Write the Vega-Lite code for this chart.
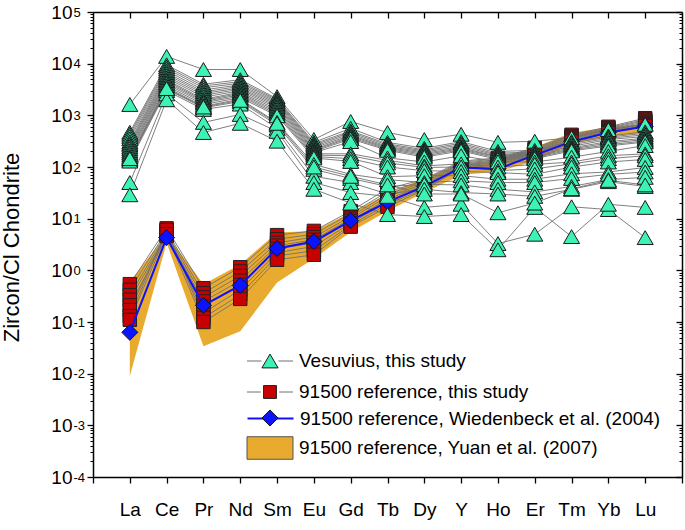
{
"$schema":"https://vega.github.io/schema/vega-lite/v6.json",
"width":589,"height":465,
"autosize":{"type":"none"},
"padding":{"left":93,"top":12,"right":3,"bottom":53},
"background":"white",
"config":{"view":{"stroke":null},"font":"Liberation Sans","axis":{"grid":false,"domainColor":"black","tickColor":"black","labelColor":"black","titleColor":"black","domainWidth":1.5,"tickWidth":1.3,"labelFont":"Liberation Sans","titleFont":"Liberation Sans"},"legend":{"labelFont":"Liberation Sans","labelColor":"black","labelLimit":600}},
"datasets":{
"ves":[
{"sample":"V1","element":"La","value":1620},{"sample":"V1","element":"Ce","value":13800},{"sample":"V1","element":"Pr","value":7700},{"sample":"V1","element":"Nd","value":7700},{"sample":"V1","element":"Sm","value":2300},{"sample":"V1","element":"Eu","value":340},{"sample":"V1","element":"Gd","value":760},{"sample":"V1","element":"Tb","value":465},{"sample":"V1","element":"Dy","value":340},{"sample":"V1","element":"Y","value":430},{"sample":"V1","element":"Ho","value":300},{"sample":"V1","element":"Er","value":315},{"sample":"V1","element":"Tm","value":370},{"sample":"V1","element":"Yb","value":530},{"sample":"V1","element":"Lu","value":670},
{"sample":"V2","element":"La","value":470},{"sample":"V2","element":"Ce","value":9500},{"sample":"V2","element":"Pr","value":4000},{"sample":"V2","element":"Nd","value":4900},{"sample":"V2","element":"Sm","value":2100},{"sample":"V2","element":"Eu","value":300},{"sample":"V2","element":"Gd","value":560},{"sample":"V2","element":"Tb","value":300},{"sample":"V2","element":"Dy","value":230},{"sample":"V2","element":"Y","value":310},{"sample":"V2","element":"Ho","value":200},{"sample":"V2","element":"Er","value":210},{"sample":"V2","element":"Tm","value":310},{"sample":"V2","element":"Yb","value":400},{"sample":"V2","element":"Lu","value":480},
{"sample":"V3","element":"La","value":430},{"sample":"V3","element":"Ce","value":8700},{"sample":"V3","element":"Pr","value":3700},{"sample":"V3","element":"Nd","value":4500},{"sample":"V3","element":"Sm","value":2000},{"sample":"V3","element":"Eu","value":280},{"sample":"V3","element":"Gd","value":500},{"sample":"V3","element":"Tb","value":280},{"sample":"V3","element":"Dy","value":215},{"sample":"V3","element":"Y","value":290},{"sample":"V3","element":"Ho","value":185},{"sample":"V3","element":"Er","value":195},{"sample":"V3","element":"Tm","value":290},{"sample":"V3","element":"Yb","value":380},{"sample":"V3","element":"Lu","value":450},
{"sample":"V4","element":"La","value":390},{"sample":"V4","element":"Ce","value":8000},{"sample":"V4","element":"Pr","value":3400},{"sample":"V4","element":"Nd","value":4200},{"sample":"V4","element":"Sm","value":1900},{"sample":"V4","element":"Eu","value":265},{"sample":"V4","element":"Gd","value":470},{"sample":"V4","element":"Tb","value":265},{"sample":"V4","element":"Dy","value":205},{"sample":"V4","element":"Y","value":270},{"sample":"V4","element":"Ho","value":175},{"sample":"V4","element":"Er","value":185},{"sample":"V4","element":"Tm","value":270},{"sample":"V4","element":"Yb","value":360},{"sample":"V4","element":"Lu","value":420},
{"sample":"V5","element":"La","value":350},{"sample":"V5","element":"Ce","value":7300},{"sample":"V5","element":"Pr","value":3100},{"sample":"V5","element":"Nd","value":3900},{"sample":"V5","element":"Sm","value":1800},{"sample":"V5","element":"Eu","value":250},{"sample":"V5","element":"Gd","value":440},{"sample":"V5","element":"Tb","value":250},{"sample":"V5","element":"Dy","value":195},{"sample":"V5","element":"Y","value":250},{"sample":"V5","element":"Ho","value":168},{"sample":"V5","element":"Er","value":178},{"sample":"V5","element":"Tm","value":250},{"sample":"V5","element":"Yb","value":340},{"sample":"V5","element":"Lu","value":390},
{"sample":"V6","element":"La","value":310},{"sample":"V6","element":"Ce","value":6700},{"sample":"V6","element":"Pr","value":2850},{"sample":"V6","element":"Nd","value":3650},{"sample":"V6","element":"Sm","value":1700},{"sample":"V6","element":"Eu","value":235},{"sample":"V6","element":"Gd","value":410},{"sample":"V6","element":"Tb","value":240},{"sample":"V6","element":"Dy","value":185},{"sample":"V6","element":"Y","value":235},{"sample":"V6","element":"Ho","value":160},{"sample":"V6","element":"Er","value":168},{"sample":"V6","element":"Tm","value":235},{"sample":"V6","element":"Yb","value":310},{"sample":"V6","element":"Lu","value":360},
{"sample":"V7","element":"La","value":285},{"sample":"V7","element":"Ce","value":6200},{"sample":"V7","element":"Pr","value":2650},{"sample":"V7","element":"Nd","value":3400},{"sample":"V7","element":"Sm","value":1600},{"sample":"V7","element":"Eu","value":220},{"sample":"V7","element":"Gd","value":390},{"sample":"V7","element":"Tb","value":230},{"sample":"V7","element":"Dy","value":175},{"sample":"V7","element":"Y","value":225},{"sample":"V7","element":"Ho","value":155},{"sample":"V7","element":"Er","value":160},{"sample":"V7","element":"Tm","value":225},{"sample":"V7","element":"Yb","value":290},{"sample":"V7","element":"Lu","value":340},
{"sample":"V8","element":"La","value":265},{"sample":"V8","element":"Ce","value":5700},{"sample":"V8","element":"Pr","value":2450},{"sample":"V8","element":"Nd","value":3200},{"sample":"V8","element":"Sm","value":1500},{"sample":"V8","element":"Eu","value":210},{"sample":"V8","element":"Gd","value":370},{"sample":"V8","element":"Tb","value":220},{"sample":"V8","element":"Dy","value":165},{"sample":"V8","element":"Y","value":215},{"sample":"V8","element":"Ho","value":148},{"sample":"V8","element":"Er","value":152},{"sample":"V8","element":"Tm","value":215},{"sample":"V8","element":"Yb","value":270},{"sample":"V8","element":"Lu","value":320},
{"sample":"V9","element":"La","value":245},{"sample":"V9","element":"Ce","value":5300},{"sample":"V9","element":"Pr","value":2250},{"sample":"V9","element":"Nd","value":3000},{"sample":"V9","element":"Sm","value":1400},{"sample":"V9","element":"Eu","value":200},{"sample":"V9","element":"Gd","value":350},{"sample":"V9","element":"Tb","value":210},{"sample":"V9","element":"Dy","value":155},{"sample":"V9","element":"Y","value":205},{"sample":"V9","element":"Ho","value":140},{"sample":"V9","element":"Er","value":145},{"sample":"V9","element":"Tm","value":205},{"sample":"V9","element":"Yb","value":255},{"sample":"V9","element":"Lu","value":305},
{"sample":"V10","element":"La","value":225},{"sample":"V10","element":"Ce","value":4900},{"sample":"V10","element":"Pr","value":2050},{"sample":"V10","element":"Nd","value":2800},{"sample":"V10","element":"Sm","value":1300},{"sample":"V10","element":"Eu","value":190},{"sample":"V10","element":"Gd","value":310},{"sample":"V10","element":"Tb","value":150},{"sample":"V10","element":"Dy","value":125},{"sample":"V10","element":"Y","value":165},{"sample":"V10","element":"Ho","value":126},{"sample":"V10","element":"Er","value":125},{"sample":"V10","element":"Tm","value":155},{"sample":"V10","element":"Yb","value":200},{"sample":"V10","element":"Lu","value":260},
{"sample":"V11","element":"La","value":205},{"sample":"V11","element":"Ce","value":4600},{"sample":"V11","element":"Pr","value":1950},{"sample":"V11","element":"Nd","value":2650},{"sample":"V11","element":"Sm","value":1200},{"sample":"V11","element":"Eu","value":180},{"sample":"V11","element":"Gd","value":180},{"sample":"V11","element":"Tb","value":135},{"sample":"V11","element":"Dy","value":105},{"sample":"V11","element":"Y","value":115},{"sample":"V11","element":"Ho","value":100},{"sample":"V11","element":"Er","value":112},{"sample":"V11","element":"Tm","value":125},{"sample":"V11","element":"Yb","value":165},{"sample":"V11","element":"Lu","value":180},
{"sample":"V12","element":"La","value":190},{"sample":"V12","element":"Ce","value":4300},{"sample":"V12","element":"Pr","value":1850},{"sample":"V12","element":"Nd","value":2500},{"sample":"V12","element":"Sm","value":1120},{"sample":"V12","element":"Eu","value":170},{"sample":"V12","element":"Gd","value":165},{"sample":"V12","element":"Tb","value":120},{"sample":"V12","element":"Dy","value":98},{"sample":"V12","element":"Y","value":100},{"sample":"V12","element":"Ho","value":85},{"sample":"V12","element":"Er","value":92},{"sample":"V12","element":"Tm","value":115},{"sample":"V12","element":"Yb","value":145},{"sample":"V12","element":"Lu","value":165},
{"sample":"V13","element":"La","value":175},{"sample":"V13","element":"Ce","value":4000},{"sample":"V13","element":"Pr","value":1750},{"sample":"V13","element":"Nd","value":2350},{"sample":"V13","element":"Sm","value":1050},{"sample":"V13","element":"Eu","value":160},{"sample":"V13","element":"Gd","value":145},{"sample":"V13","element":"Tb","value":100},{"sample":"V13","element":"Dy","value":85},{"sample":"V13","element":"Y","value":82},{"sample":"V13","element":"Ho","value":78},{"sample":"V13","element":"Er","value":72},{"sample":"V13","element":"Tm","value":100},{"sample":"V13","element":"Yb","value":125},{"sample":"V13","element":"Lu","value":140},
{"sample":"V14","element":"La","value":160},{"sample":"V14","element":"Ce","value":3700},{"sample":"V14","element":"Pr","value":1620},{"sample":"V14","element":"Nd","value":2200},{"sample":"V14","element":"Sm","value":980},{"sample":"V14","element":"Eu","value":150},{"sample":"V14","element":"Gd","value":128},{"sample":"V14","element":"Tb","value":65},{"sample":"V14","element":"Dy","value":68},{"sample":"V14","element":"Y","value":68},{"sample":"V14","element":"Ho","value":58},{"sample":"V14","element":"Er","value":58},{"sample":"V14","element":"Tm","value":74},{"sample":"V14","element":"Yb","value":80},{"sample":"V14","element":"Lu","value":98},
{"sample":"V15","element":"La","value":150},{"sample":"V15","element":"Ce","value":3450},{"sample":"V15","element":"Pr","value":1500},{"sample":"V15","element":"Nd","value":2050},{"sample":"V15","element":"Sm","value":730},{"sample":"V15","element":"Eu","value":112},{"sample":"V15","element":"Gd","value":72},{"sample":"V15","element":"Tb","value":57},{"sample":"V15","element":"Dy","value":50},{"sample":"V15","element":"Y","value":54},{"sample":"V15","element":"Ho","value":50},{"sample":"V15","element":"Er","value":50},{"sample":"V15","element":"Tm","value":60},{"sample":"V15","element":"Yb","value":72},{"sample":"V15","element":"Lu","value":80},
{"sample":"V16","element":"La","value":140},{"sample":"V16","element":"Ce","value":3200},{"sample":"V16","element":"Pr","value":1400},{"sample":"V16","element":"Nd","value":1850},{"sample":"V16","element":"Sm","value":650},{"sample":"V16","element":"Eu","value":90},{"sample":"V16","element":"Gd","value":60},{"sample":"V16","element":"Tb","value":42},{"sample":"V16","element":"Dy","value":46},{"sample":"V16","element":"Y","value":45},{"sample":"V16","element":"Ho","value":37},{"sample":"V16","element":"Er","value":33},{"sample":"V16","element":"Tm","value":42},{"sample":"V16","element":"Yb","value":57},{"sample":"V16","element":"Lu","value":63},
{"sample":"V17","element":"La","value":130},{"sample":"V17","element":"Ce","value":3000},{"sample":"V17","element":"Pr","value":1300},{"sample":"V17","element":"Nd","value":1650},{"sample":"V17","element":"Sm","value":560},{"sample":"V17","element":"Eu","value":66},{"sample":"V17","element":"Gd","value":50},{"sample":"V17","element":"Tb","value":30},{"sample":"V17","element":"Dy","value":37},{"sample":"V17","element":"Y","value":32},{"sample":"V17","element":"Ho","value":30},{"sample":"V17","element":"Er","value":27},{"sample":"V17","element":"Tm","value":37},{"sample":"V17","element":"Yb","value":52},{"sample":"V17","element":"Lu","value":42},
{"sample":"V18","element":"La","value":50},{"sample":"V18","element":"Ce","value":2600},{"sample":"V18","element":"Pr","value":730},{"sample":"V18","element":"Nd","value":1040},{"sample":"V18","element":"Sm","value":490},{"sample":"V18","element":"Eu","value":50},{"sample":"V18","element":"Gd","value":32},{"sample":"V18","element":"Tb","value":27},{"sample":"V18","element":"Dy","value":16.5},{"sample":"V18","element":"Y","value":19},{"sample":"V18","element":"Ho","value":3.3},{"sample":"V18","element":"Er","value":5},{"sample":"V18","element":"Tm","value":17},{"sample":"V18","element":"Yb","value":15},{"sample":"V18","element":"Lu","value":4.3},
{"sample":"V19","element":"La","value":29},{"sample":"V19","element":"Ce","value":2000},{"sample":"V19","element":"Pr","value":465},{"sample":"V19","element":"Nd","value":700},{"sample":"V19","element":"Sm","value":316},{"sample":"V19","element":"Eu","value":37},{"sample":"V19","element":"Gd","value":20},{"sample":"V19","element":"Tb","value":12},{"sample":"V19","element":"Dy","value":11},{"sample":"V19","element":"Y","value":12},{"sample":"V19","element":"Ho","value":2.5},{"sample":"V19","element":"Er","value":16.5},{"sample":"V19","element":"Tm","value":4.5},{"sample":"V19","element":"Yb","value":19},{"sample":"V19","element":"Lu","value":16.5},
{"sample":"V20","element":"La","value":145},{"sample":"V20","element":"Ce","value":3300},{"sample":"V20","element":"Pr","value":1450},{"sample":"V20","element":"Nd","value":1950},{"sample":"V20","element":"Sm","value":700},{"sample":"V20","element":"Eu","value":100},{"sample":"V20","element":"Gd","value":66},{"sample":"V20","element":"Tb","value":45},{"sample":"V20","element":"Dy","value":30},{"sample":"V20","element":"Y","value":30},{"sample":"V20","element":"Ho","value":13},{"sample":"V20","element":"Er","value":20},{"sample":"V20","element":"Tm","value":38},{"sample":"V20","element":"Yb","value":55},{"sample":"V20","element":"Lu","value":45}
],
"sq":[
{"sample":"Q1","element":"La","value":0.54},{"sample":"Q1","element":"Ce","value":6.5},{"sample":"Q1","element":"Pr","value":0.45},{"sample":"Q1","element":"Nd","value":1.15},{"sample":"Q1","element":"Sm","value":4.8},{"sample":"Q1","element":"Eu","value":5.8},{"sample":"Q1","element":"Gd","value":14},{"sample":"Q1","element":"Tb","value":38},{"sample":"Q1","element":"Dy","value":58},{"sample":"Q1","element":"Y","value":130},{"sample":"Q1","element":"Ho","value":150},{"sample":"Q1","element":"Er","value":235},{"sample":"Q1","element":"Tm","value":420},{"sample":"Q1","element":"Yb","value":600},{"sample":"Q1","element":"Lu","value":880},
{"sample":"Q2","element":"La","value":0.42},{"sample":"Q2","element":"Ce","value":5.8},{"sample":"Q2","element":"Pr","value":0.36},{"sample":"Q2","element":"Nd","value":0.95},{"sample":"Q2","element":"Sm","value":4.0},{"sample":"Q2","element":"Eu","value":5.0},{"sample":"Q2","element":"Gd","value":12.5},{"sample":"Q2","element":"Tb","value":33},{"sample":"Q2","element":"Dy","value":54},{"sample":"Q2","element":"Y","value":125},{"sample":"Q2","element":"Ho","value":142},{"sample":"Q2","element":"Er","value":225},{"sample":"Q2","element":"Tm","value":400},{"sample":"Q2","element":"Yb","value":575},{"sample":"Q2","element":"Lu","value":830},
{"sample":"Q3","element":"La","value":0.33},{"sample":"Q3","element":"Ce","value":5.2},{"sample":"Q3","element":"Pr","value":0.3},{"sample":"Q3","element":"Nd","value":0.78},{"sample":"Q3","element":"Sm","value":3.4},{"sample":"Q3","element":"Eu","value":4.4},{"sample":"Q3","element":"Gd","value":11},{"sample":"Q3","element":"Tb","value":30},{"sample":"Q3","element":"Dy","value":50},{"sample":"Q3","element":"Y","value":120},{"sample":"Q3","element":"Ho","value":136},{"sample":"Q3","element":"Er","value":215},{"sample":"Q3","element":"Tm","value":385},{"sample":"Q3","element":"Yb","value":555},{"sample":"Q3","element":"Lu","value":790},
{"sample":"Q4","element":"La","value":0.27},{"sample":"Q4","element":"Ce","value":4.8},{"sample":"Q4","element":"Pr","value":0.25},{"sample":"Q4","element":"Nd","value":0.63},{"sample":"Q4","element":"Sm","value":3.0},{"sample":"Q4","element":"Eu","value":3.9},{"sample":"Q4","element":"Gd","value":10},{"sample":"Q4","element":"Tb","value":27},{"sample":"Q4","element":"Dy","value":47},{"sample":"Q4","element":"Y","value":115},{"sample":"Q4","element":"Ho","value":130},{"sample":"Q4","element":"Er","value":205},{"sample":"Q4","element":"Tm","value":370},{"sample":"Q4","element":"Yb","value":530},{"sample":"Q4","element":"Lu","value":750},
{"sample":"Q5","element":"La","value":0.21},{"sample":"Q5","element":"Ce","value":4.6},{"sample":"Q5","element":"Pr","value":0.2},{"sample":"Q5","element":"Nd","value":0.52},{"sample":"Q5","element":"Sm","value":2.6},{"sample":"Q5","element":"Eu","value":3.4},{"sample":"Q5","element":"Gd","value":9},{"sample":"Q5","element":"Tb","value":24},{"sample":"Q5","element":"Dy","value":44},{"sample":"Q5","element":"Y","value":110},{"sample":"Q5","element":"Ho","value":125},{"sample":"Q5","element":"Er","value":195},{"sample":"Q5","element":"Tm","value":355},{"sample":"Q5","element":"Yb","value":510},{"sample":"Q5","element":"Lu","value":710},
{"sample":"Q6","element":"La","value":0.17},{"sample":"Q6","element":"Ce","value":5.5},{"sample":"Q6","element":"Pr","value":0.15},{"sample":"Q6","element":"Nd","value":0.42},{"sample":"Q6","element":"Sm","value":2.2},{"sample":"Q6","element":"Eu","value":2.9},{"sample":"Q6","element":"Gd","value":8.2},{"sample":"Q6","element":"Tb","value":21},{"sample":"Q6","element":"Dy","value":41},{"sample":"Q6","element":"Y","value":105},{"sample":"Q6","element":"Ho","value":120},{"sample":"Q6","element":"Er","value":185},{"sample":"Q6","element":"Tm","value":340},{"sample":"Q6","element":"Yb","value":490},{"sample":"Q6","element":"Lu","value":680},
{"sample":"Q7","element":"La","value":0.13},{"sample":"Q7","element":"Ce","value":6.0},{"sample":"Q7","element":"Pr","value":0.12},{"sample":"Q7","element":"Nd","value":0.34},{"sample":"Q7","element":"Sm","value":1.9},{"sample":"Q7","element":"Eu","value":2.4},{"sample":"Q7","element":"Gd","value":7.5},{"sample":"Q7","element":"Tb","value":19},{"sample":"Q7","element":"Dy","value":38},{"sample":"Q7","element":"Y","value":100},{"sample":"Q7","element":"Ho","value":115},{"sample":"Q7","element":"Er","value":175},{"sample":"Q7","element":"Tm","value":325},{"sample":"Q7","element":"Yb","value":470},{"sample":"Q7","element":"Lu","value":650},
{"sample":"Q8","element":"La","value":0.11},{"sample":"Q8","element":"Ce","value":5.0},{"sample":"Q8","element":"Pr","value":0.1},{"sample":"Q8","element":"Nd","value":0.28},{"sample":"Q8","element":"Sm","value":1.6},{"sample":"Q8","element":"Eu","value":2.0},{"sample":"Q8","element":"Gd","value":7},{"sample":"Q8","element":"Tb","value":17},{"sample":"Q8","element":"Dy","value":36},{"sample":"Q8","element":"Y","value":95},{"sample":"Q8","element":"Ho","value":110},{"sample":"Q8","element":"Er","value":165},{"sample":"Q8","element":"Tm","value":310},{"sample":"Q8","element":"Yb","value":450},{"sample":"Q8","element":"Lu","value":620}
],
"wie":[
{"element":"La","value":0.063},{"element":"Ce","value":4.3},{"element":"Pr","value":0.21},{"element":"Nd","value":0.51},{"element":"Sm","value":2.65},{"element":"Eu","value":3.6},{"element":"Gd","value":9.2},{"element":"Tb","value":21},{"element":"Dy","value":42},{"element":"Y","value":98},{"element":"Ho","value":92},{"element":"Er","value":170},{"element":"Tm","value":310},{"element":"Yb","value":465},{"element":"Lu","value":610}
],
"yuan":[
{"element":"La","lo":0.009,"hi":0.6},{"element":"Ce","lo":3.4,"hi":5.0},{"element":"Pr","lo":0.034,"hi":0.54},{"element":"Nd","lo":0.066,"hi":1.3},{"element":"Sm","lo":0.58,"hi":5.4},{"element":"Eu","lo":1.7,"hi":5.8},{"element":"Gd","lo":5.5,"hi":13},{"element":"Tb","lo":14,"hi":30},{"element":"Dy","lo":32,"hi":62},{"element":"Y","lo":70,"hi":115},{"element":"Ho","lo":82,"hi":135},{"element":"Er","lo":130,"hi":240},{"element":"Tm","lo":280,"hi":460},{"element":"Yb","lo":390,"hi":590},{"element":"Lu","lo":460,"hi":680}
]
},
"layer":[
{"data":{"name":"yuan"},"mark":{"type":"area","stroke":null},
 "encoding":{
  "x":{"field":"element","type":"ordinal","sort":null,"scale":{"type":"point","padding":0,"domain":["a0","La","Ce","Pr","Nd","Sm","Eu","Gd","Tb","Dy","Y","Ho","Er","Tm","Yb","Lu","z0"]},
   "axis":{"orient":"bottom","values":["a0","La","Ce","Pr","Nd","Sm","Eu","Gd","Tb","Dy","Y","Ho","Er","Tm","Yb","Lu","z0"],"tickSize":6,"labelExpr":"datum.value == 'a0' || datum.value == 'z0' ? '' : datum.value","labelAngle":0,"labelAlign":"center","labelBaseline":"middle","labelPadding":26,"labelDx":2,"labelFontSize":19,"title":null,"labelOverlap":false}},
  "y":{"field":"lo","type":"quantitative","scale":{"type":"log","domain":[0.0001,100000],"nice":false},
   "axis":{"orient":"left","values":[0.0001,0.001,0.01,0.1,1,10,100,1000,10000,100000],"tickSize":6,"labelFontSize":19,"labelPadding":15,"labelExpr":"'10'","encode":{"labels":{"update":{"dx":{"signal":"datum.value < 1 ? -4 : 0"}}}},"title":"Zircon/Cl Chondrite","titleFontSize":22,"titleFontWeight":"normal","titleX":-82,"titleY":235,"titleAngle":-90,"titleAlign":"center","titleBaseline":"middle","labelOverlap":false}},
  "y2":{"field":"hi"},
  "fill":{"datum":"91500 reference, Yuan et al. (2007)","type":"nominal","scale":{"range":["#e9ab2f"]},
   "legend":{"orient":"none","legendX":153.5,"legendY":412.5,"title":null,"padding":0,"symbolType":"M-1,-0.49H1V0.49H-1Z","symbolSize":2116,"symbolStrokeColor":"#555555","symbolStrokeWidth":1,"labelFontSize":19,"labelOffset":5.5,"labelLimit":600}}
 }},
{"data":{"name":"sq"},"mark":{"type":"line","strokeWidth":0.9},
 "encoding":{
  "x":{"field":"element","type":"ordinal","sort":null,"scale":{"type":"point","padding":0,"domain":["a0","La","Ce","Pr","Nd","Sm","Eu","Gd","Tb","Dy","Y","Ho","Er","Tm","Yb","Lu","z0"]},
   "axis":{"orient":"top","values":["La","Ce","Pr","Nd","Sm","Eu","Gd","Tb","Dy","Y","Ho","Er","Tm","Yb","Lu"],"tickSize":-6,"labels":false,"title":null}},
  "y":{"field":"value","type":"quantitative","scale":{"type":"log","domain":[0.0001,100000],"nice":false},
   "axis":{"orient":"left","values":[0.0002,0.0003,0.0004,0.0005,0.0006,0.0007,0.0008,0.0009,0.002,0.003,0.004,0.005,0.006,0.007,0.008,0.009,0.02,0.03,0.04,0.05,0.06,0.07,0.08,0.09,0.2,0.3,0.4,0.5,0.6,0.7,0.8,0.9,2,3,4,5,6,7,8,9,20,30,40,50,60,70,80,90,200,300,400,500,600,700,800,900,2000,3000,4000,5000,6000,7000,8000,9000,20000,30000,40000,50000,60000,70000,80000,90000],"tickSize":3,"tickWidth":1,"labels":false,"domain":false,"title":null}},
  "detail":{"field":"sample"},
  "stroke":{"datum":"91500 reference, this study","type":"nominal","scale":{"range":["#707070"]},
   "legend":{"orient":"none","legendX":153.5,"legendY":356.5,"title":null,"padding":0,"symbolType":"M-1,0H-0.4M0.4,0H1","symbolSize":2116,"symbolStrokeWidth":1,"labelFontSize":19,"labelOffset":5.5,"labelLimit":600}}
 }},
{"data":{"name":"ves"},"mark":{"type":"line","strokeWidth":0.9},
 "encoding":{
  "x":{"field":"element","type":"ordinal","sort":null,"scale":{"type":"point","padding":0,"domain":["a0","La","Ce","Pr","Nd","Sm","Eu","Gd","Tb","Dy","Y","Ho","Er","Tm","Yb","Lu","z0"]},"axis":null},
  "y":{"field":"value","type":"quantitative","scale":{"type":"log","domain":[0.0001,100000],"nice":false},
   "axis":{"orient":"right","values":[0.0001,0.001,0.01,0.1,1,10,100,1000,10000,100000],"tickSize":-6,"labels":false,"title":null}},
  "detail":{"field":"sample"},
  "stroke":{"datum":"Vesuvius, this study","type":"nominal","scale":{"range":["#707070"]},
   "legend":{"orient":"none","legendX":153.5,"legendY":325.5,"title":null,"padding":0,"symbolType":"M-1,0H-0.37M0.37,0H1","symbolSize":2116,"symbolStrokeWidth":1,"labelFontSize":19,"labelOffset":5.5,"labelLimit":600}}
 }},
{"data":{"name":"sq"},"mark":{"type":"point","shape":"square","size":180,"filled":true,"opacity":1,"stroke":"#222222","strokeWidth":1},
 "encoding":{
  "x":{"field":"element","type":"ordinal","sort":null,"scale":{"type":"point","padding":0,"domain":["a0","La","Ce","Pr","Nd","Sm","Eu","Gd","Tb","Dy","Y","Ho","Er","Tm","Yb","Lu","z0"]},"axis":null},
  "y":{"field":"value","type":"quantitative","scale":{"type":"log","domain":[0.0001,100000],"nice":false},
   "axis":{"orient":"right","values":[0.0002,0.0003,0.0004,0.0005,0.0006,0.0007,0.0008,0.0009,0.002,0.003,0.004,0.005,0.006,0.007,0.008,0.009,0.02,0.03,0.04,0.05,0.06,0.07,0.08,0.09,0.2,0.3,0.4,0.5,0.6,0.7,0.8,0.9,2,3,4,5,6,7,8,9,20,30,40,50,60,70,80,90,200,300,400,500,600,700,800,900,2000,3000,4000,5000,6000,7000,8000,9000,20000,30000,40000,50000,60000,70000,80000,90000],"tickSize":-3,"tickWidth":1,"labels":false,"domain":false,"title":null}},
  "fill":{"datum":"91500 reference, this study","type":"nominal","scale":{"range":["#c80000"]},
   "legend":{"orient":"none","legendX":153.5,"legendY":356.5,"title":null,"padding":0,"symbolType":"M-0.28,-0.28H0.28V0.28H-0.28Z","symbolSize":2116,"symbolStrokeColor":"#222222","symbolStrokeWidth":1,"labelFontSize":19,"labelOffset":5.5,"labelExpr":"''"}}
 }},
{"data":{"name":"wie"},"mark":{"type":"line","strokeWidth":2,"stroke":"#1010ff"},
 "encoding":{
  "x":{"field":"element","type":"ordinal","sort":null,"scale":{"type":"point","padding":0,"domain":["a0","La","Ce","Pr","Nd","Sm","Eu","Gd","Tb","Dy","Y","Ho","Er","Tm","Yb","Lu","z0"]},"axis":null},
  "y":{"field":"value","type":"quantitative","scale":{"type":"log","domain":[0.0001,100000],"nice":false},
   "axis":{"orient":"left","values":[0.0001,0.001,0.01,0.1,1,10,100,1000,10000,100000],"tickSize":0,"domain":false,"labelFontSize":13,"labelAlign":"left","labelPadding":20,"labelDy":-7,"labelExpr":"'' + round(log(datum.value)/LN10)","encode":{"labels":{"update":{"dx":{"signal":"datum.value < 1 ? -4 : 0"}}}},"title":null,"labelOverlap":false}},
  "stroke":{"datum":"91500 reference, Wiedenbeck et al. (2004)","type":"nominal","scale":{"range":["#1010ff"]},
   "legend":{"orient":"none","legendX":153.5,"legendY":382.5,"title":null,"padding":0,"symbolType":"M-1,0H1","symbolSize":2116,"symbolStrokeWidth":2,"labelFontSize":19,"labelOffset":5.5,"labelLimit":600}}
 }},
{"data":{"name":"wie"},"mark":{"type":"point","shape":"diamond","size":256,"filled":true,"opacity":1,"stroke":"#111111","strokeWidth":1},
 "encoding":{
  "x":{"field":"element","type":"ordinal","sort":null,"scale":{"type":"point","padding":0,"domain":["a0","La","Ce","Pr","Nd","Sm","Eu","Gd","Tb","Dy","Y","Ho","Er","Tm","Yb","Lu","z0"]},"axis":null},
  "y":{"field":"value","type":"quantitative","scale":{"type":"log","domain":[0.0001,100000],"nice":false},"axis":null},
  "fill":{"datum":"91500 reference, Wiedenbeck et al. (2004)","type":"nominal","scale":{"range":["#0a14ff"]},
   "legend":{"orient":"none","legendX":153.5,"legendY":382.5,"title":null,"padding":0,"symbolType":"M0,-0.35L0.35,0L0,0.35L-0.35,0Z","symbolSize":2116,"symbolStrokeColor":"#111111","symbolStrokeWidth":1,"labelFontSize":19,"labelOffset":5.5,"labelExpr":"''"}}
 }},
{"data":{"name":"ves"},"mark":{"type":"point","shape":"triangle-up","size":256,"filled":true,"opacity":1,"stroke":"#1a1a1a","strokeWidth":1},
 "encoding":{
  "x":{"field":"element","type":"ordinal","sort":null,"scale":{"type":"point","padding":0,"domain":["a0","La","Ce","Pr","Nd","Sm","Eu","Gd","Tb","Dy","Y","Ho","Er","Tm","Yb","Lu","z0"]},"axis":null},
  "y":{"field":"value","type":"quantitative","scale":{"type":"log","domain":[0.0001,100000],"nice":false},"axis":null},
  "fill":{"datum":"Vesuvius, this study","type":"nominal","scale":{"range":["#3df2b5"]},
   "legend":{"orient":"none","legendX":153.5,"legendY":325.5,"title":null,"padding":0,"symbolType":"M0,-0.3L0.35,0.3L-0.35,0.3Z","symbolSize":2116,"symbolStrokeColor":"#1a1a1a","symbolStrokeWidth":1,"labelFontSize":19,"labelOffset":5.5,"labelExpr":"''"}}
 }}
],
"resolve":{"scale":{"fill":"independent","stroke":"independent"},"axis":{"x":"independent","y":"independent"}}
}
